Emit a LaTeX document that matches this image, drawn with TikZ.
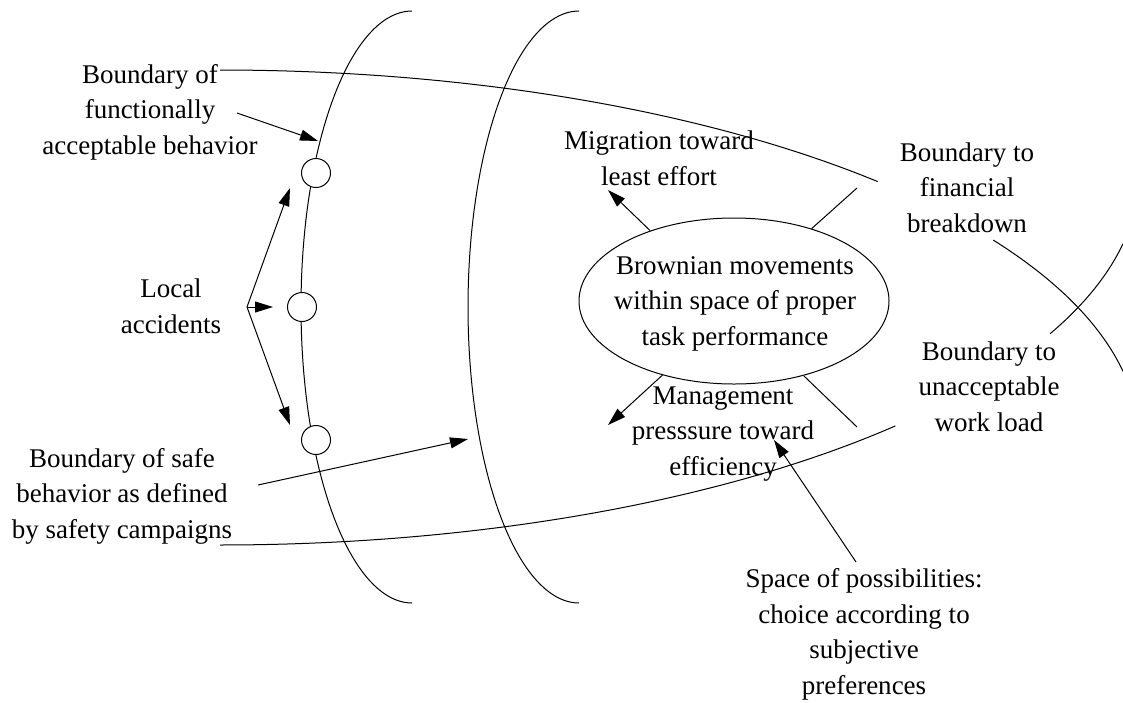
\documentclass[tikz,border=0pt]{standalone}
\usepackage{fontspec}
\setmainfont{Liberation Serif}
\usetikzlibrary{arrows.meta,shapes.geometric}
\begin{document}
\begin{tikzpicture}[x=1pt,y=-1pt,line width=1pt,
  lbl/.style={align=center,font=\fontsize{27}{35.5}\selectfont,inner sep=0pt,anchor=base},
  arr/.style={-{Triangle[length=18pt,width=11pt]}},
  acc/.style={circle,draw,fill=white,minimum size=29pt,inner sep=0pt}]
\useasboundingbox (0,0) rectangle (1123,702);
% two boundary arcs
\draw plot[domain=-90:90,samples=90] ({412-111*cos(\x)},{307+296*sin(\x)});
\draw plot[domain=-90:90,samples=90] ({579-111*cos(\x)},{307+296*sin(\x)});
% boundary to financial breakdown
\draw plot[domain=90:44.3,samples=70] ({220+919*cos(\x)},{440-370*sin(\x)});
\draw plot[domain=32.7:10.7,samples=40] ({220+919*cos(\x)},{440-370*sin(\x)});
% boundary to unacceptable work load
\draw plot[domain=90:42.7,samples=70] ({220+919*cos(\x)},{175+370*sin(\x)});
\draw plot[domain=25.4:10.7,samples=40] ({220+919*cos(\x)},{175+370*sin(\x)});
% local accidents
\node[acc] (c1) at (316,173) {};
\node[acc] (c2) at (302,307) {};
\node[acc] (c3) at (316,440) {};
% central ellipse
\node[ellipse,draw,minimum width=310pt,minimum height=166pt,inner sep=0pt] (brown) at (734,301) {};
\node[lbl] (browntxt) at (735,345) {Brownian movements\\within space of proper\\task performance};
% labels
\node[lbl] (func) at (150,154) {Boundary of\\functionally\\acceptable behavior};
\node[lbl] (local) at (171,333) {Local\\accidents};
\node[lbl] (safe) at (122,538) {Boundary of safe\\behavior as defined\\by safety campaigns};
\node[lbl] (migr) at (659,185) {Migration toward\\least effort};
\node[lbl] (fin) at (967,232) {Boundary to\\financial\\breakdown};
\node[lbl] (work) at (989,431) {Boundary to\\unacceptable\\work load};
\node[lbl] (mgmt) at (723,475) {Management\\presssure toward\\efficiency};
\node[lbl] (space) at (864,694) {Space of possibilities:\\choice according to\\subjective\\preferences};
% coordinates
\coordinate (funcS) at (237,113);
\coordinate (funcT) at (318,141);
\coordinate (locS) at (247,307);
\coordinate (locT1) at (290,188);
\coordinate (locT2) at (273,307);
\coordinate (locT3) at (290,425);
\coordinate (safeS) at (258,485);
\coordinate (safeT) at (468,439);
\coordinate (migrT) at (608,190);
\coordinate (finE) at (857,188);
\coordinate (mgmtT) at (608,425);
\coordinate (workE) at (857,427);
\coordinate (spaceS) at (856,562);
\coordinate (spaceT) at (774,440);
% connectors
\draw[arr] (funcS) -- (funcT);
\draw[arr] (locS) -- (locT1);
\draw[arr] (locS) -- (locT2);
\draw[arr] (locS) -- (locT3);
\draw[arr] (safeS) -- (safeT);
\draw[arr] (brown.140) -- (migrT);
\draw (brown.43) -- (finE);
\draw[arr] (brown.226) -- (mgmtT);
\draw (brown.313) -- (workE);
\draw[arr] (spaceS) -- (spaceT);
\end{tikzpicture}
\end{document}
